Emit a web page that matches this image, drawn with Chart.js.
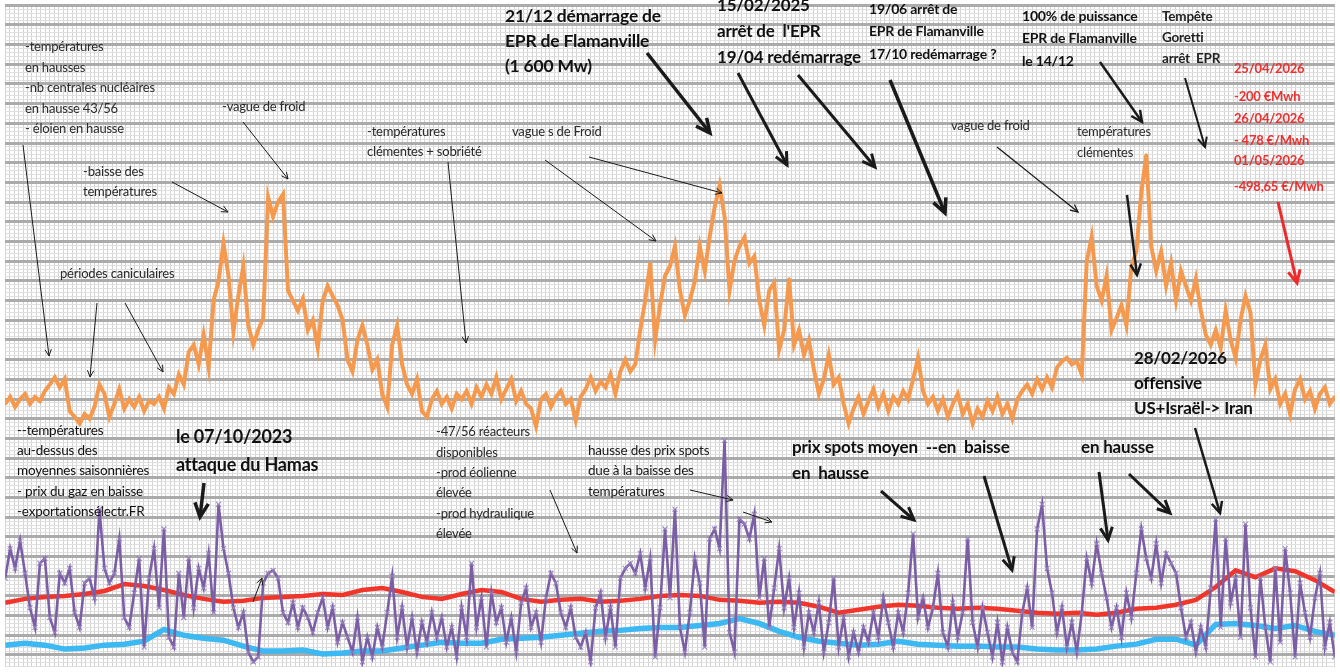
<!DOCTYPE html>
<html>
<head>
<meta charset="utf-8">
<script src="https://cdn.jsdelivr.net/npm/chart.js@4.4.1/dist/chart.umd.min.js"></script>
<style>
body { margin: 0; background: #fff; }
#wrap { position: relative; width: 1340px; height: 672px; overflow: hidden; }
#coronitaChart, #arrows, #notes { position: absolute; left: 0; top: 0; }
#notes { width: 1340px; height: 672px; }
.n { position: absolute; white-space: pre; line-height: 1; font-family: Lato, "Open Sans", sans-serif; letter-spacing: -0.2px; }
</style>
</head>
<body>
<div id="wrap">
  <canvas id="coronitaChart" width="1340" height="672"></canvas>
  <svg id="arrows" width="1340" height="672"></svg>
  <div id="notes"></div>
</div>
<script>
// consommation (GW), un point tous les 4 jours
var consoGW = [
 44.5,45.7,44,45.3,46.2,44.5,45.7,45,46.7,47.8,49,47.3,48.7,43.3,42.3,41.2,42.8,42,44,47.8,
 46.2,42.3,44.5,47,43.7,45.3,44,45.7,43.3,45,44.5,45.7,43.7,47.3,46.2,49.5,47.8,53.3,54.5,51.2,
 56.2,50.7,62,65.3,71.7,66.2,56.7,62.8,67.8,57.8,54.5,57,59,79.5,76.2,78.7,80,63.7,62,60.3,
 62.3,57,58.7,54,62,64.5,62.8,61.2,58.7,52,50,55.3,57.8,54.5,50.3,52,46.2,44,54.5,57.8,
 51.2,47.8,46.2,48.7,43.3,42.3,45.3,46.7,44.5,45.7,43.7,46.2,45.3,46.7,44.5,47.3,45.7,47.8,46.2,49,
 45.3,47,48.7,45,46.7,44.5,43.7,40.7,45.3,46.2,44,45.7,46.7,44.5,45.3,41.7,45.7,47,49,46.7,
 48.3,47.3,49.5,46.2,50,52,50,51.2,57,62,68.3,55.3,61.2,66.2,67.8,71.2,63.7,59.5,62,65.3,
 71.2,67,72.8,77.8,81.5,76.2,63.7,68.7,71.2,72.7,68.3,69.5,62,57.8,63.7,65,53.7,57,65.7,54.5,
 57,52.8,55.3,50.3,46.2,48.7,52.8,47.8,49,44.5,41.2,43.7,45.7,42.8,45,47,44,46.2,43.3,45.7,
 44.5,46.7,45.3,48.7,52.3,46.7,44.5,45.7,43.3,45.3,42.3,44.5,46.2,42.8,44.5,41.2,43.7,42.3,45,43.3,
 45.7,42.8,44.5,42,45.3,46.7,47.8,46.2,48.7,47,49,47.3,50.7,51.7,52.3,51.2,51.7,49.5,68.7,72.8,
 64.5,62,66.2,57,59,61.2,57.8,67.8,70.3,80.3,86.7,71.2,67,70.3,64.5,68.3,62,67,64.5,62,
 65.7,60.3,56.2,54.5,57,54,60.3,55.3,52.3,58.7,62.8,60,47.8,52,54.5,47,48.7,44.5,46.2,42.8,
 47,48.7,45.3,46.7,43.7,46.2,47.3,44.5,45.7
];

// prix spot (EUR/MWh), un point tous les 4 jours
var prixSpot = [
 90,120,100,128,95,60,40,105,110,50,35,95,85,100,55,40,85,90,70,160,
 100,85,95,130,50,40,75,110,20,90,120,60,140,30,20,95,50,110,60,100,
 80,115,55,165,120,95,60,40,55,15,5,10,85,95,98,90,55,45,65,40,
 60,50,35,55,70,40,60,25,45,30,15,50,5,30,10,40,20,55,92,30,
 60,20,50,15,45,25,55,30,50,20,40,10,60,30,105,40,70,20,75,45,
 60,25,50,15,65,80,40,55,25,70,95,85,55,40,60,30,20,35,5,60,
 75,30,60,20,90,100,105,95,115,80,110,10,60,140,70,160,40,15,55,110,
 85,20,130,140,120,230,35,15,150,145,130,155,70,110,40,80,120,60,90,40,
 75,20,55,35,65,15,45,90,20,50,10,35,15,40,25,55,30,70,45,20,
 55,35,75,135,50,70,40,60,95,35,20,65,30,55,130,45,20,60,35,10,
 45,5,40,15,5,55,80,40,140,165,100,75,35,60,20,45,15,55,110,85,
 125,95,70,40,60,30,75,50,95,140,110,90,125,85,115,105,95,60,30,45,
 15,40,20,80,150,40,130,65,90,30,145,60,10,90,40,5,100,25,120,75,
 10,85,55,30,70,95,20,45,10
];

// prix moyen et prix du gaz (EUR/MWh), un point tous les 16 jours
var prixMoyen = [
 65,69,71,72,74,77,84,82,78,73,69,66,67,70,71,72,74,73,78,80,
 76,71,69,74,78,76,69,66,68,69,66,67,69,72,73,72,68,67,65,66,
 65,61,55,58,61,63,62,60,59,60,59,57,55,54,55,53,55,59,60,63,
 68,81,98,91,100,97,88,76
];
var prixGaz = [
 22,24,22,18,19,22,23,26,38,32,29,27,21,16,16,17,13,14,16,16,
 19,22,25,24,24,28,29,30,32,34,36,37,39,40,40,42,44,49,44,36,
 30,26,24,22,23,26,23,22,21,21,20,20,18,17,17,18,21,23,28,28,
 22,43,44,42,39,42,36,32
];

var notes = [
 [25, 48, 20.5, 13, 400, "#2a2a2a", ["-températures", "en hausses", "-nb centrales nucléaires", "en hausse 43/56", "- éloien en hausse"]],
 [222, 108, 20, 13, 400, "#2a2a2a", ["-vague de froid"]],
 [83, 173, 20, 13, 400, "#2a2a2a", ["-baisse des", "températures"]],
 [367, 133, 20, 13, 400, "#2a2a2a", ["-températures", "clémentes + sobriété"]],
 [512, 133, 20, 13, 400, "#2a2a2a", ["vague s de Froid"]],
 [60, 275, 20, 13, 400, "#2a2a2a", ["périodes caniculaires"]],
 [17, 432, 20.2, 13.5, 400, "#111", ["--températures", "au-dessus des", "moyennes saisonnières", "- prix du gaz en baisse", "-exportationsélectr.FR"]],
 [176, 438, 28, 18, 700, "#111", ["le 07/10/2023", "attaque du Hamas"]],
 [436, 433, 20.4, 13, 400, "#2a2a2a", ["-47/56 réacteurs", "disponibles", "-prod éolienne", "élevée", "-prod hydraulique", "élevée"]],
 [588, 452, 20.5, 13.5, 400, "#1a1a1a", ["hausse des prix spots", "due à la baisse des", "températures"]],
 [792, 448, 26, 17, 700, "#111", ["prix spots moyen  --en  baisse", "en  hausse"]],
 [1081, 448, 26, 17, 700, "#111", ["en hausse"]],
 [1134, 359, 25, 17, 700, "#111", ["28/02/2026", "offensive", "US+Israël-> Iran"]],
 [505, 17, 25, 17.5, 700, "#111", ["21/12 démarrage de", "EPR de Flamanville", "(1 600 Mw)"]],
 [717, 6, 26, 17, 700, "#111", ["15/02/2025", "arrêt de  l'EPR", "19/04 redémarrage"]],
 [869, 10, 22.5, 14, 700, "#111", ["19/06 arrêt de", "EPR de Flamanville", "17/10 redémarrage ?"]],
 [1022, 17, 22.5, 14, 700, "#111", ["100% de puissance", "EPR de Flamanville", "le 14/12"]],
 [1162, 18, 21, 13.5, 700, "#222", ["Tempête", "Goretti", "arrêt  EPR"]],
 [951, 127, 20, 13, 400, "#2a2a2a", ["vague de froid"]],
 [1077, 133, 21, 13, 400, "#2a2a2a", ["températures", "clémentes"]],
 [1234, 70, 0, 13, 700, "#ee3030", ["25/04/2026"]],
 [1234, 98, 0, 13, 700, "#ee3030", ["-200 €Mwh"]],
 [1234, 120, 0, 13, 700, "#ee3030", ["26/04/2026"]],
 [1234, 142, 0, 13, 700, "#ee3030", ["- 478 €/Mwh"]],
 [1234, 162, 0, 13, 700, "#ee3030", ["01/05/2026"]],
 [1234, 188, 0, 13, 700, "#ee3030", ["-498,65 €/Mwh"]]
];

// x1, y1, x2, y2, épaisseur, couleur
var arrows = [
 [23,145,49,356,1], [243,122,288,179,1], [172,182,228,212,1], [448,162,466,343,1],
 [545,160,656,241,1], [589,157,722,193,1], [97,303,90,377,1], [125,303,163,372,1],
 [253,602,262,578,1], [550,490,577,553,1], [690,490,733,500,1], [743,512,772,522,1],
 [997,147,1078,212,1.3],
 [204,483,200,517,3.5], [647,53,710,133,3.5], [738,73,787,165,3], [798,75,875,167,3],
 [890,80,945,213,3.5], [1100,62,1142,122,2.5], [1185,78,1205,147,2], [1127,195,1137,275,2.5],
 [881,491,914,520,3], [984,476,1012,570,3], [1099,472,1108,540,3], [1129,474,1170,513,3],
 [1195,428,1220,513,2.5],
 [1278,202,1297,283,3,"#ee2a2a"]
];

document.addEventListener("DOMContentLoaded", function startWebApp(iEvent) {
  start();
});

function start() {
  renderChart();
  drawArrows();
  drawNotes();
}

function renderChart() {
  var ctx = document.getElementById("coronitaChart").getContext('2d');
  var zeroW = function (a) { a.width = 0; };
  var zeroH = function (a) { a.height = 0; };
  new Chart(ctx, {
    type: 'line',
    data: {
      datasets: [
        {
          data: prixSpot.map(function (v, i) { return { x: i * 4, y: v }; }),
          yAxisID: 'yPrix',
          borderColor: "#7b5ea5",
          borderWidth: 2.6,
          pointStyle: 'crossRot',
          pointRadius: 3.5,
          pointBorderWidth: 1.2,
          pointBorderColor: "rgba(150,128,190,0.9)",
          order: 0
        },
        {
          data: prixMoyen.map(function (v, i) { return { x: i * 16, y: v }; }),
          yAxisID: 'yPrix',
          borderColor: "#f2352b",
          borderWidth: 4.5,
          pointRadius: 0,
          order: 1
        },
        {
          data: prixGaz.map(function (v, i) { return { x: i * 16, y: v }; }),
          yAxisID: 'yPrix',
          borderColor: "#3cb8f3",
          borderWidth: 5.5,
          pointRadius: 0,
          order: 2
        },
        {
          data: consoGW.map(function (v, i) { return { x: i * 4, y: v }; }),
          yAxisID: 'yConso',
          borderColor: "#f5994e",
          borderWidth: 4,
          pointRadius: 1.5,
          pointBackgroundColor: "#f5994e",
          pointBorderWidth: 0,
          order: 3
        }
      ]
    },
    options: {
      responsive: false,
      animation: false,
      layout: { padding: 0 },
      plugins: { legend: { display: false }, tooltip: { enabled: false } },
      scales: {
        x: {
          type: 'linear', min: 0, max: 1072,
          ticks: { display: false, stepSize: 3.6, autoSkip: false },
          grid: { color: "#d3d3d3", lineWidth: 1, drawTicks: false },
          border: { display: false },
          afterFit: zeroH
        },
        yPrix: {
          type: 'linear', position: 'left', min: 0, max: 672,
          ticks: { display: false, stepSize: 4, autoSkip: false },
          grid: {
            drawTicks: false,
            color: function (c) { return (c.tick && c.tick.value % 20 === 12) ? "#ababab" : "#dfdfdf"; },
            lineWidth: function (c) { return (c.tick && c.tick.value % 20 === 12) ? 3 : 1; }
          },
          border: { display: false },
          afterFit: zeroW
        },
        yConso: {
          type: 'linear', position: 'right', min: 0, max: 112,
          display: false
        }
      }
    }
  });
}

function drawArrows() {
  var out = "";
  arrows.forEach(function (a) {
    var x1 = a[0], y1 = a[1], x2 = a[2], y2 = a[3], w = a[4], col = a[5] || "#1a1a1a";
    var ang = Math.atan2(y2 - y1, x2 - x1), L = 4 + w * 3.3;
    var hx1 = x2 - L * Math.cos(ang - 0.45), hy1 = y2 - L * Math.sin(ang - 0.45);
    var hx2 = x2 - L * Math.cos(ang + 0.45), hy2 = y2 - L * Math.sin(ang + 0.45);
    out += '<line x1="' + x1 + '" y1="' + y1 + '" x2="' + x2 + '" y2="' + y2 + '" stroke="' + col + '" stroke-width="' + w + '"/>';
    out += '<polyline points="' + hx1 + ',' + hy1 + ' ' + x2 + ',' + y2 + ' ' + hx2 + ',' + hy2 + '" fill="none" stroke="' + col + '" stroke-width="' + w + '"/>';
  });
  document.getElementById("arrows").innerHTML = out;
}

function drawNotes() {
  var box = document.getElementById("notes");
  notes.forEach(function (n) {
    n[6].forEach(function (txt, i) {
      var d = document.createElement("div");
      d.className = "n";
      d.textContent = txt;
      d.style.left = n[0] + "px";
      d.style.top = (n[1] + i * n[2] - n[3] * 0.6) + "px";
      d.style.fontSize = n[3] + "px";
      d.style.fontWeight = n[4];
      d.style.color = n[5];
      box.appendChild(d);
    });
  });
}
</script>
</body>
</html>
